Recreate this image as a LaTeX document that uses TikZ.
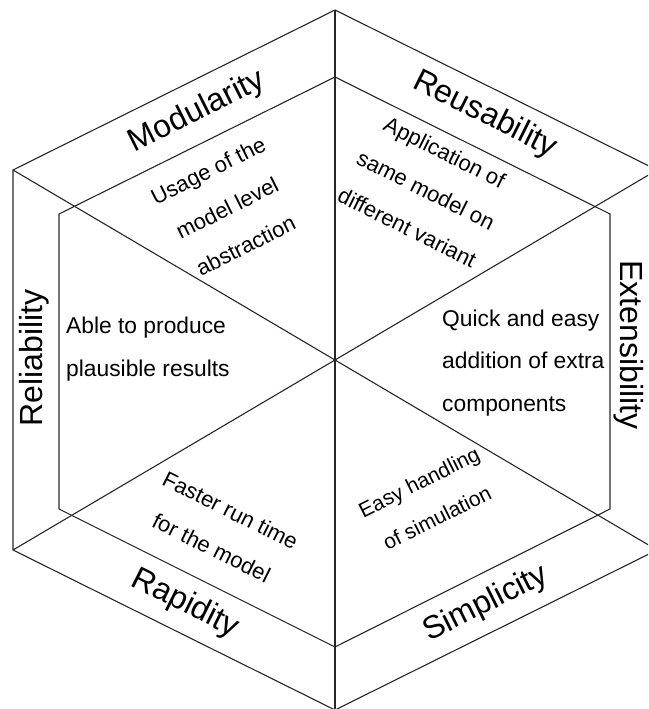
\documentclass[tikz,border=0pt]{standalone}
\usepackage{fontspec}
\setmainfont{Liberation Sans}
\begin{document}
\begin{tikzpicture}[x=1pt,y=1pt,
  edge/.style={line width=1.1pt,draw=black!85,line join=miter},
  title/.style={font=\fontsize{32}{38}\selectfont,inner sep=0pt},
  body/.style={font=\fontsize{22}{42}\selectfont,align=center,inner sep=0pt},
  flatbody/.style={font=\fontsize{22.8}{42.5}\selectfont,align=left,anchor=west,inner sep=0pt}]
\useasboundingbox (0,0) rectangle (648,709);
\clip (0,0) rectangle (648,709);
% outer hexagon
\coordinate (oT) at (335,699);
\coordinate (oUR) at (657,539);
\coordinate (oLR) at (657,159);
\coordinate (oB) at (335,-1);
\coordinate (oLL) at (13,159);
\coordinate (oUL) at (13,539);
% inner hexagon
\coordinate (iT) at (335,632);
\coordinate (iUR) at (610,495);
\coordinate (iLR) at (610,200);
\coordinate (iB) at (335,62);
\coordinate (iLL) at (59,200);
\coordinate (iUL) at (59,495);
\coordinate (c) at (335,349);
\draw[edge] (oT) -- (oUR) -- (oLR) -- (oB) -- (oLL) -- (oUL) -- cycle;
\draw[edge] (iT) -- (iUR) -- (iLR) -- (iB) -- (iLL) -- (iUL) -- cycle;
\foreach \v in {oT,oUR,oLR,oB,oLL,oUL} \draw[edge] (c) -- (\v);
% outer ring labels
\node[title,rotate=26.6] (modularity) at (197,597) {Modularity};
\node[title,rotate=-26.6] (reusability) at (485,594) {Reusability};
\node[title,rotate=-90] (extensibility) at (629,364) {Extensibility};
\node[title,rotate=90] (reliability) at (34,351) {Reliability};
\node[title,rotate=-26.6] (rapidity) at (185,105) {Rapidity};
\node[title,rotate=26.6] (simplicity) at (486,105) {Simplicity};
% sector descriptions
\node[body,rotate=26.6] (modtext) at (227,501) {Usage of the\\model level\\abstraction};
\node[body,rotate=-26.6] (reutext) at (426,519) {Application of\\same model on\\different variant};
\node[flatbody] (exttext) at (442,346) {Quick and easy\\addition of extra\\components};
\node[flatbody] (reltext) at (66,360) {Able to produce\\plausible results};
\node[body,rotate=-26.6] (raptext) at (221,180) {Faster run time\\for the model};
\node[body,rotate=26.6,font=\fontsize{21}{40}\selectfont] (simtext) at (428,209) {Easy handling\\of simulation};
\end{tikzpicture}
\end{document}
